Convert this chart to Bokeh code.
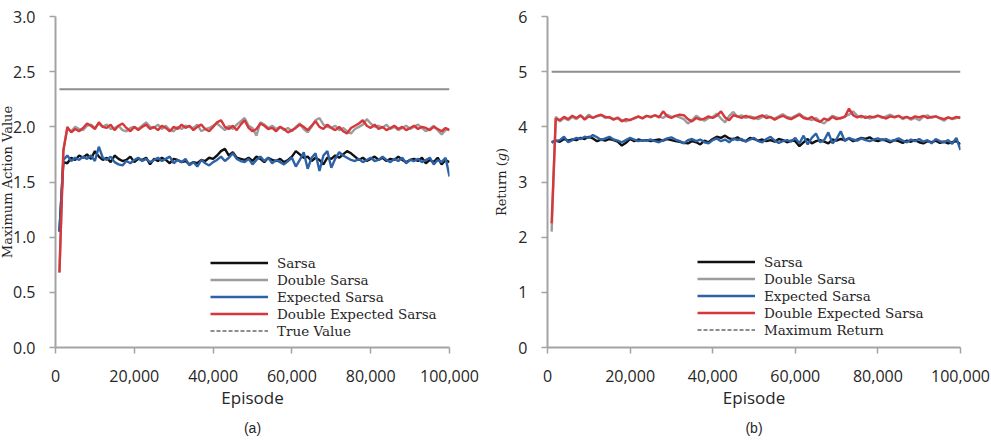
from bokeh.embed import file_html
from bokeh.layouts import row
from bokeh.models import (FixedTicker, Legend, LegendItem, NumeralTickFormatter,
                          Range1d, Title)
from bokeh.plotting import figure
from bokeh.resources import INLINE

# Episodes at which performance was recorded
episodes = list(range(1000, 100001, 1000))

# (a) Maximum action value
sarsa_a = [
    1.05, 1.68, 1.67, 1.72, 1.70, 1.74, 1.72, 1.75, 1.71, 1.78,
    1.73, 1.70, 1.72, 1.68, 1.74, 1.71, 1.69, 1.70, 1.73, 1.68,
    1.71, 1.70, 1.72, 1.66, 1.71, 1.69, 1.72, 1.70, 1.67, 1.71,
    1.70, 1.68, 1.69, 1.66, 1.68, 1.67, 1.70, 1.69, 1.72, 1.71,
    1.74, 1.78, 1.80, 1.74, 1.77, 1.72, 1.71, 1.70, 1.72, 1.69,
    1.73, 1.71, 1.68, 1.72, 1.70, 1.69, 1.71, 1.68, 1.70, 1.73,
    1.78, 1.75, 1.72, 1.73, 1.69, 1.72, 1.70, 1.66, 1.72, 1.71,
    1.74, 1.72, 1.75, 1.78, 1.76, 1.73, 1.70, 1.72, 1.69, 1.71,
    1.73, 1.70, 1.72, 1.69, 1.71, 1.70, 1.73, 1.70, 1.68, 1.70,
    1.71, 1.69, 1.72, 1.67, 1.70, 1.68, 1.72, 1.66, 1.70, 1.68,
]
double_sarsa_a = [
    0.68, 1.80, 1.98, 1.96, 2.00, 1.98, 1.97, 2.01, 2.02, 1.99,
    2.03, 2.00, 2.02, 1.98, 1.99, 2.01, 1.97, 1.96, 1.99, 2.00,
    1.98, 2.01, 2.04, 2.00, 1.99, 2.02, 1.98, 2.01, 1.97, 1.96,
    2.00, 1.98, 2.01, 2.00, 1.99, 2.02, 1.96, 1.98, 1.99, 2.01,
    2.03, 2.00, 1.97, 2.01, 1.98, 2.02, 2.05, 2.08, 2.01, 1.99,
    1.92, 2.04, 2.02, 1.99, 2.01, 1.98, 2.00, 1.97, 1.99, 1.96,
    2.00, 2.03, 1.98, 1.95, 2.00, 2.06, 2.08, 2.02, 2.00, 1.99,
    2.01, 1.97, 1.99, 1.96, 1.94, 1.98, 2.00, 2.02, 2.07, 2.03,
    2.00, 2.01, 1.99, 2.02, 1.98, 2.00, 1.97, 1.99, 2.01, 1.98,
    2.00, 2.02, 1.99, 1.96, 1.98, 2.01, 1.97, 1.93, 1.97, 1.98,
]
expected_sarsa_a = [
    1.05, 1.70, 1.74, 1.69, 1.72, 1.70, 1.73, 1.71, 1.74, 1.69,
    1.82, 1.72, 1.70, 1.73, 1.68, 1.66, 1.65, 1.69, 1.67, 1.70,
    1.72, 1.69, 1.71, 1.68, 1.70, 1.72, 1.69, 1.71, 1.73, 1.67,
    1.70, 1.68, 1.71, 1.65, 1.68, 1.64, 1.70, 1.67, 1.65, 1.68,
    1.70, 1.73, 1.69, 1.72, 1.76, 1.71, 1.69, 1.68, 1.71, 1.66,
    1.70, 1.73, 1.69, 1.72, 1.67, 1.70, 1.68, 1.66, 1.69, 1.72,
    1.64, 1.70, 1.77, 1.62, 1.72, 1.76, 1.60, 1.74, 1.78, 1.63,
    1.71, 1.77, 1.74, 1.72, 1.70, 1.69, 1.71, 1.68, 1.70, 1.72,
    1.69, 1.70, 1.73, 1.70, 1.68, 1.71, 1.69, 1.72, 1.67, 1.70,
    1.69, 1.71, 1.68, 1.70, 1.72, 1.66, 1.70, 1.68, 1.72, 1.55,
]
double_expected_sarsa_a = [
    0.68, 1.78, 2.00, 1.95, 1.98, 1.96, 1.99, 2.03, 2.01, 1.98,
    2.04, 2.00, 1.99, 2.02, 1.97, 2.01, 2.03, 1.99, 1.96, 2.00,
    1.97, 2.00, 2.02, 1.98, 2.00, 1.97, 2.01, 1.99, 1.96, 2.00,
    1.98, 2.02, 1.99, 2.01, 1.97, 2.00, 2.02, 1.98, 1.96, 2.00,
    2.04, 2.06, 2.00, 1.98, 2.01, 1.97, 2.02, 2.06, 1.99, 1.96,
    1.98, 2.03, 2.01, 1.98, 1.99, 1.96, 2.00, 1.98, 1.95, 1.97,
    1.99, 2.02, 2.00, 1.97, 2.01, 2.05, 2.00, 1.98, 2.02, 1.99,
    1.97, 2.00, 1.96, 1.94, 1.99, 2.01, 2.03, 2.06, 2.01, 1.99,
    2.02, 1.98, 2.00, 1.97, 1.99, 2.01, 1.98, 2.00, 1.97, 1.99,
    2.01, 1.98, 2.00, 1.99, 1.97, 2.00, 1.98, 1.96, 1.99, 1.97,
]
true_value = 2.34

# (b) Return
sarsa_b = [
    3.72, 3.75, 3.73, 3.78, 3.75, 3.77, 3.76, 3.80, 3.78, 3.82,
    3.79, 3.74, 3.77, 3.75, 3.78, 3.76, 3.73, 3.66, 3.71, 3.78,
    3.74, 3.77, 3.75, 3.76, 3.74, 3.76, 3.77, 3.75, 3.78, 3.76,
    3.74, 3.73, 3.71, 3.70, 3.74, 3.72, 3.68, 3.75, 3.72, 3.78,
    3.82, 3.80, 3.84, 3.79, 3.77, 3.81, 3.76, 3.74, 3.80, 3.78,
    3.75, 3.77, 3.74, 3.76, 3.73, 3.78, 3.76, 3.72, 3.75, 3.74,
    3.65, 3.72, 3.78, 3.70, 3.74, 3.76, 3.73, 3.70, 3.77, 3.75,
    3.78, 3.76, 3.79, 3.74, 3.77, 3.80, 3.78, 3.81, 3.76, 3.74,
    3.77, 3.75, 3.72, 3.76, 3.74, 3.71, 3.75, 3.73, 3.76, 3.72,
    3.70, 3.74, 3.72, 3.75, 3.71, 3.73, 3.70, 3.72, 3.74, 3.68,
]
double_sarsa_b = [
    2.10, 4.18, 4.10, 4.16, 4.12, 4.18, 4.14, 4.20, 4.15, 4.22,
    4.17, 4.19, 4.21, 4.16, 4.18, 4.14, 4.17, 4.12, 4.10, 4.13,
    4.15, 4.18, 4.16, 4.20, 4.17, 4.21, 4.19, 4.16, 4.22, 4.18,
    4.20, 4.17, 4.14, 4.06, 4.12, 4.20, 4.15, 4.11, 4.16, 4.18,
    4.24, 4.15, 4.08, 4.20, 4.27, 4.18, 4.21, 4.16, 4.19, 4.17,
    4.14, 4.18, 4.21, 4.17, 4.15, 4.19, 4.23, 4.18, 4.16, 4.20,
    4.24, 4.18, 4.15, 4.12, 4.16, 4.10, 4.06, 4.14, 4.20, 4.17,
    4.15, 4.19, 4.22, 4.28, 4.20, 4.17, 4.19, 4.15, 4.18, 4.21,
    4.16, 4.19, 4.22, 4.18, 4.20, 4.14, 4.18, 4.13, 4.16, 4.12,
    4.18, 4.21, 4.16, 4.19, 4.15, 4.11, 4.17, 4.14, 4.16, 4.18,
]
expected_sarsa_b = [
    3.72, 3.74, 3.76, 3.82, 3.72, 3.76, 3.80, 3.78, 3.82, 3.80,
    3.85, 3.81, 3.76, 3.79, 3.82, 3.77, 3.75, 3.72, 3.76, 3.80,
    3.77, 3.74, 3.76, 3.75, 3.77, 3.74, 3.72, 3.76, 3.79, 3.81,
    3.77, 3.74, 3.70, 3.76, 3.78, 3.74, 3.77, 3.72, 3.70, 3.76,
    3.79, 3.74, 3.77, 3.72, 3.79, 3.76, 3.78, 3.73, 3.77, 3.80,
    3.74, 3.72, 3.78, 3.82, 3.75, 3.71, 3.74, 3.76, 3.73, 3.80,
    3.70, 3.84, 3.68, 3.80, 3.88, 3.72, 3.76, 3.90, 3.70, 3.78,
    3.92, 3.74, 3.80, 3.77, 3.75, 3.79, 3.76, 3.74, 3.77, 3.79,
    3.76, 3.78, 3.74, 3.76, 3.79, 3.75, 3.72, 3.77, 3.74, 3.78,
    3.73, 3.76, 3.70, 3.78, 3.74, 3.72, 3.76, 3.69, 3.80, 3.58,
]
double_expected_sarsa_b = [
    2.25, 4.15, 4.12, 4.18, 4.14, 4.20, 4.16, 4.21, 4.13, 4.19,
    4.16, 4.20, 4.22, 4.18, 4.17, 4.13, 4.16, 4.10, 4.14, 4.12,
    4.16, 4.19, 4.15, 4.20, 4.18, 4.21, 4.17, 4.28, 4.19, 4.16,
    4.20, 4.22, 4.21, 4.14, 4.10, 4.16, 4.13, 4.15, 4.19, 4.16,
    4.20, 4.28, 4.17, 4.12, 4.21, 4.19, 4.16, 4.20, 4.17, 4.15,
    4.18, 4.21, 4.16, 4.18, 4.13, 4.17, 4.20, 4.16, 4.14, 4.18,
    4.22, 4.16, 4.14, 4.18, 4.12, 4.09, 4.15, 4.12, 4.18, 4.14,
    4.16, 4.18, 4.33, 4.21, 4.17, 4.20, 4.16, 4.19, 4.17, 4.20,
    4.18, 4.15, 4.19, 4.17, 4.20, 4.16, 4.18, 4.15, 4.19, 4.17,
    4.20, 4.16, 4.18, 4.19, 4.16, 4.14, 4.17, 4.15, 4.18, 4.16,
]
maximum_return = 5.0

series_names = ["Sarsa", "Double Sarsa", "Expected Sarsa", "Double Expected Sarsa"]
x_ticks = [0, 20000, 40000, 60000, 80000, 100000]
y_ticks_a = [0.0, 0.5, 1.0, 1.5, 2.0, 2.5, 3.0]
y_ticks_b = [0, 1, 2, 3, 4, 5, 6]

COLORS = ["#111111", "#9c9c9c", "#2d62a6", "#d7373b"]
REF_COLOR = "#8e8e8e"
AXIS_COLOR = "#a3a3a3"
TEXT_COLOR = "#262626"
SANS = "Open Sans"
SERIF = "DejaVu Serif"


def make_panel(width, borders, y_max, y_ticks, y_fmt, y_title, y_title_size,
               y_title_standoff, series, ref_value, ref_label, caption):
    left, right, top, bottom = borders
    p = figure(width=width, height=442, output_backend="svg", toolbar_location=None,
               x_range=Range1d(0, 100000), y_range=Range1d(0, y_max),
               min_border_left=left, min_border_right=right,
               min_border_top=top, min_border_bottom=bottom)
    p.outline_line_color = None
    p.grid.visible = False
    p.background_fill_color = "white"
    p.border_fill_color = "white"

    for ax in (p.xaxis[0], p.yaxis[0]):
        ax.axis_line_color = AXIS_COLOR
        ax.axis_line_width = 2
        ax.major_tick_line_color = AXIS_COLOR
        ax.major_tick_line_width = 1.5
        ax.major_tick_out = 6
        ax.major_tick_in = 0
        ax.minor_tick_line_color = None
        ax.major_label_text_font = SANS
        ax.major_label_text_font_size = "16px"
        ax.major_label_text_color = TEXT_COLOR
        ax.axis_label_text_color = TEXT_COLOR
        ax.axis_label_text_font_style = "normal"

    p.xaxis.ticker = FixedTicker(ticks=x_ticks)
    p.xaxis.formatter = NumeralTickFormatter(format="0,0")
    p.xaxis.major_label_standoff = 16
    p.xaxis.axis_label = "Episode"
    p.xaxis.axis_label_text_font = SANS
    p.xaxis.axis_label_text_font_size = "17px"
    p.xaxis.axis_label_standoff = 1

    p.yaxis.ticker = FixedTicker(ticks=y_ticks)
    p.yaxis.formatter = NumeralTickFormatter(format=y_fmt)
    p.yaxis.major_label_standoff = 14
    p.yaxis.axis_label = y_title
    p.yaxis.axis_label_text_font = SERIF
    p.yaxis.axis_label_text_font_size = y_title_size
    p.yaxis.axis_label_standoff = y_title_standoff

    p.add_layout(Title(text=caption, align="center", text_font="Liberation Sans",
                       text_font_size="14px", text_font_style="normal",
                       text_color=TEXT_COLOR, standoff=13), "below")

    # reference level
    p.line([episodes[0], episodes[-1]], [ref_value, ref_value],
           line_color=REF_COLOR, line_width=2)

    items = []
    for name, vals, color in zip(series_names, series, COLORS):
        r = p.line(episodes, vals, line_color=color, line_width=2.4)
        items.append(LegendItem(label=name, renderers=[r]))
    # dashed key for the reference level (its data lies off the visible range)
    r_ref = p.line([-5000, -4000], [-1, -1], line_color=REF_COLOR, line_width=2,
                   line_dash="4 2")
    items.append(LegendItem(label=ref_label, renderers=[r_ref]))
    return p, items


def style_legend(items, loc):
    return Legend(items=items, location=loc, orientation="vertical",
                  label_text_font=SERIF, label_text_font_size="13.5px",
                  label_text_color=TEXT_COLOR, glyph_width=58, glyph_height=17,
                  label_height=17, label_standoff=9, spacing=0, padding=0,
                  margin=0, border_line_color=None, background_fill_alpha=0)


# Panel (a): its canvas starts a few pixels left of the page edge so that the
# axis title sits right against the edge
pa, items_a = make_panel(498, (63, 41, 13, 95), 3.0, y_ticks_a, "0.0",
                         "Maximum Action Value", "13px", -5,
                         [sarsa_a, double_sarsa_a, expected_sarsa_a,
                          double_expected_sarsa_a], true_value, "True Value", "(a)")
pa.margin = (0, 0, 0, -8)
pa.add_layout(style_legend(items_a, (155, 8)))

# Panel (b)
pb, items_b = make_panel(501, (57, 31, 16, 92), 6.0, y_ticks_b, "0",
                         "Return (\U0001D454)", "13px", 6,
                         [sarsa_b, double_sarsa_b, expected_sarsa_b,
                          double_expected_sarsa_b], maximum_return, "Maximum Return", "(b)")
pb.add_layout(style_legend(items_b, (150, 9)))

layout = row(pa, pb)
open("out.html", "w").write(file_html(layout, INLINE))
